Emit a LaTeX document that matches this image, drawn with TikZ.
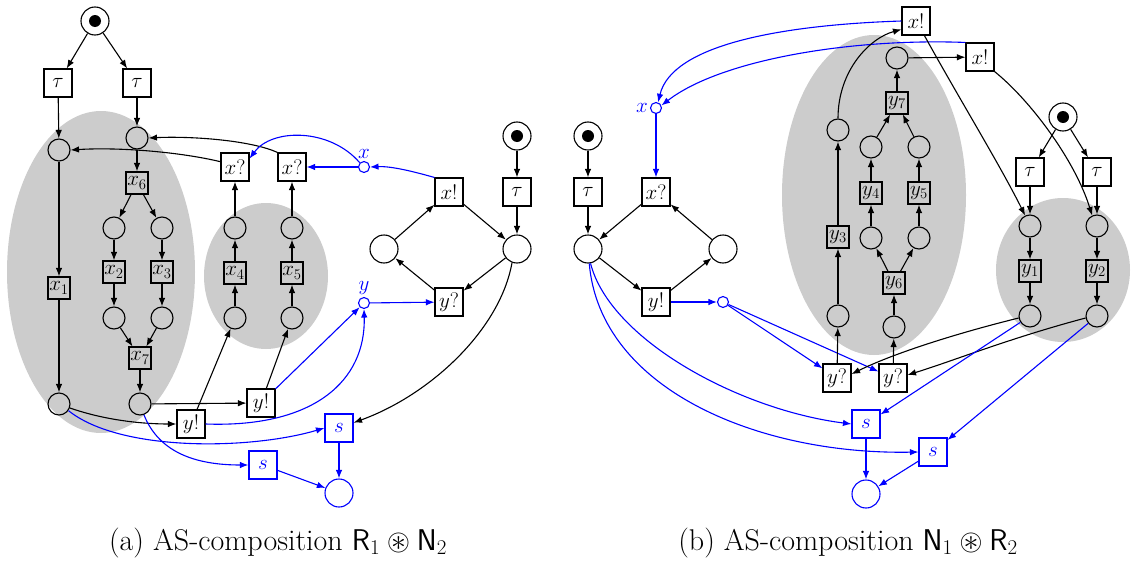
\RequirePackage{fix-cm}
\documentclass[tikz,border=0pt]{standalone}
\usepackage{amssymb}
\usetikzlibrary{arrows.meta}
\begin{document}
\begin{tikzpicture}[x=1pt,y=-1pt,
  every node/.style={font=\fontsize{21}{24}\selectfont},
  pl/.style={circle,draw,line width=1.1pt,minimum size=22pt,inner sep=0pt},
  wpl/.style={circle,draw,line width=1.1pt,minimum size=28pt,inner sep=0pt,fill=white},
  tokpl/.style={wpl},
  tr/.style={rectangle,draw,line width=1.1pt,fill=white,minimum size=28pt,inner sep=1pt},
  gtr/.style={rectangle,draw,line width=1.1pt,fill=black!20,minimum size=22pt,inner sep=0.5pt},
  btr/.style={tr,draw=blue,text=blue},
  bwpl/.style={wpl,draw=blue},
  ch/.style={circle,draw=blue,fill=white,line width=1.1pt,minimum size=11pt,inner sep=0pt},
  chlab/.style={blue,inner sep=2pt},
  arc/.style={-{Latex[length=8.5pt,width=6.5pt]},line width=1.1pt},
  barc/.style={arc,blue},
  blob/.style={fill=black!20},
  captext/.style={font=\fontsize{30}{34}\selectfont}
]
\useasboundingbox (0,0) rectangle (1133,562);

% ---------- background blobs ----------
\fill[blob] (101,272) ellipse [x radius=94pt, y radius=161pt];
\fill[blob] (266,276) ellipse [x radius=62pt, y radius=73pt];
\fill[blob] (874,195) ellipse [x radius=92pt, y radius=160pt];
\fill[blob] (1063,270) ellipse [x radius=67pt, y radius=72pt];

% ================= (a) =================
\node[tokpl] (a0) at (95,21) {};
\node[tr] (atl) at (58,83) {$\tau$};
\node[tr] (atr) at (137,83) {$\tau$};
\node[pl] (ap1) at (59,150) {};
\node[pl] (ap2) at (137,138) {};
\node[gtr] (ax6) at (137,183) {$x_6$};
\node[pl] (ap3) at (114,228) {};
\node[pl] (ap4) at (162,228) {};
\node[gtr] (ax2) at (114,272) {$x_2$};
\node[gtr] (ax3) at (162,272) {$x_3$};
\node[pl] (ap5) at (114,318) {};
\node[pl] (ap6) at (162,318) {};
\node[gtr] (ax7) at (140,358) {$x_7$};
\node[pl] (ap7) at (140,404) {};
\node[gtr] (ax1) at (59,288) {$x_1$};
\node[pl] (ap8) at (59,404) {};
\node[tr] (aq1) at (235,167) {$x?$};
\node[tr] (aq2) at (292,167) {$x?$};
\node[pl] (ap9) at (235,228) {};
\node[pl] (ap10) at (292,228) {};
\node[gtr] (ax4) at (235,273) {$x_4$};
\node[gtr] (ax5) at (292,273) {$x_5$};
\node[pl] (ap11) at (235,318) {};
\node[pl] (ap12) at (292,318) {};
\node[ch,label={[chlab]above:$x$}] (acx) at (364,167) {};
\node[ch,label={[chlab]above:$y$}] (acy) at (364,303) {};
\node[tr] (ay1) at (191,424) {$y!$};
\node[tr] (ay2) at (261,403) {$y!$};
\node[btr] (as1) at (339,428) {$s$};
\node[btr] (as2) at (263,465) {$s$};
\node[bwpl] (abp) at (339,493) {};
\node[tr] (axb) at (449,192) {$x!$};
\node[tokpl] (a20) at (517,136) {};
\node[tr] (atau2) at (517,192) {$\tau$};
\node[wpl] (apr) at (517,249) {};
\node[wpl] (apl) at (384,249) {};
\node[tr] (ayq) at (449,302) {$y?$};

\draw[arc] (a0) -- (atl);
\draw[arc] (a0) -- (atr);
\draw[arc] (atl) -- (ap1);
\draw[arc] (atr) -- (ap2);
\draw[arc] (ap1) -- (ax1);
\draw[arc] (ax1) -- (ap8);
\draw[arc] (ap2) -- (ax6);
\draw[arc] (ax6) -- (ap3);
\draw[arc] (ax6) -- (ap4);
\draw[arc] (ap3) -- (ax2);
\draw[arc] (ap4) -- (ax3);
\draw[arc] (ax2) -- (ap5);
\draw[arc] (ax3) -- (ap6);
\draw[arc] (ap5) -- (ax7);
\draw[arc] (ap6) -- (ax7);
\draw[arc] (ax7) -- (ap7);
\draw[arc] (aq1.160) .. controls (180,152) and (120,147) .. (ap1.east);
\draw[arc] (aq2.north west) .. controls (250,140) and (190,136) .. (ap2.east);
\draw[arc] (ap9) -- (aq1);
\draw[arc] (ap10) -- (aq2);
\draw[arc] (ax4) -- (ap9);
\draw[arc] (ax5) -- (ap10);
\draw[arc] (ap11) -- (ax4);
\draw[arc] (ap12) -- (ax5);
\draw[barc] (acx) -- (aq2);
\draw[barc] (acx.135) .. controls (330,128) and (272,128) .. (aq1.30);
\draw[barc] (axb.north west) .. controls (415,172) and (392,166) .. (acx.east);
\draw[arc] (ap8.-20) .. controls (110,422) and (150,424) .. (ay1.west);
\draw[arc] (ap7) -- (ay2);
\draw[arc] (ay1) -- (ap11);
\draw[arc] (ay2) -- (ap12);
\draw[barc] (ay2) -- (acy);
\draw[barc] (ay1.east) .. controls (315,428) and (366,380) .. (acy.south);
\draw[barc] (acy) -- (ayq);
\draw[barc] (ap8.-35) .. controls (120,452) and (250,450) .. (as1.west);
\draw[barc] (ap7.-70) .. controls (160,455) and (200,465) .. (as2.west);
\draw[barc] (as1) -- (abp);
\draw[barc] (as2) -- (abp);
\draw[arc] (apr.-110) .. controls (500,330) and (430,395) .. (as1.20);
\draw[arc] (apl) -- (axb);
\draw[arc] (axb) -- (apr);
\draw[arc] (apr) -- (ayq);
\draw[arc] (ayq) -- (apl);
\draw[arc] (a20) -- (atau2);
\draw[arc] (atau2) -- (apr);

% ================= (b) =================
\node[tokpl] (b0) at (588,136) {};
\node[tr] (btau) at (588,192) {$\tau$};
\node[wpl] (bpp) at (588,249) {};
\node[tr] (bxq) at (656,192) {$x?$};
\node[wpl] (bpq) at (723,249) {};
\node[ch,label={[chlab]left:$x$}] (bcx) at (656,108) {};
\node[tr] (byb) at (656,302) {$y!$};
\node[ch] (bcy) at (723,302) {};
\node[tr] (byq1) at (837,378) {$y?$};
\node[tr] (byq2) at (893,378) {$y?$};
\node[pl] (bc1) at (838,316) {};
\node[gtr] (by3) at (838,237) {$y_3$};
\node[pl] (bc2) at (838,130) {};
\node[tr] (bxt) at (916,21) {$x!$};
\node[tr] (bxs) at (980,57) {$x!$};
\node[pl] (bd0) at (897,58) {};
\node[gtr] (by7) at (897,103) {$y_7$};
\node[pl] (bd1) at (871,147) {};
\node[pl] (bd2) at (919,147) {};
\node[gtr] (by4) at (871,193) {$y_4$};
\node[gtr] (by5) at (919,193) {$y_5$};
\node[pl] (bd3) at (871,238) {};
\node[pl] (bd4) at (919,238) {};
\node[gtr] (by6) at (894,283) {$y_6$};
\node[pl] (bd5) at (894,327) {};
\node[tokpl] (b20) at (1063,117) {};
\node[tr] (bt1) at (1030,172) {$\tau$};
\node[tr] (bt2) at (1097,172) {$\tau$};
\node[pl] (be1) at (1030,226) {};
\node[pl] (be2) at (1097,226) {};
\node[gtr] (by1) at (1030,271) {$y_1$};
\node[gtr] (by2) at (1097,271) {$y_2$};
\node[pl] (be3) at (1030,316) {};
\node[pl] (be4) at (1097,316) {};
\node[btr] (bs1) at (866,424) {$s$};
\node[btr] (bs2) at (933,452) {$s$};
\node[bwpl] (bbp) at (866,494) {};

% tokens
\foreach \t in {a0,a20,b0,b20} \fill (\t.center) circle [radius=6pt];

\draw[arc] (b0) -- (btau);
\draw[arc] (btau) -- (bpp);
\draw[arc] (bpp) -- (byb);
\draw[arc] (byb) -- (bpq);
\draw[arc] (bpq) -- (bxq);
\draw[arc] (bxq) -- (bpp);
\draw[barc] (bcx) -- (bxq);
\draw[barc] (bxt.west) .. controls (780,25) and (672,45) .. (bcx.70);
\draw[barc] (bxs.north west) .. controls (850,38) and (720,60) .. (bcx.25);
\draw[barc] (byb) -- (bcy);
\draw[barc] (bcy) -- (byq1);
\draw[barc] (bcy) -- (byq2);
\draw[barc] (bpp.-80) .. controls (610,340) and (740,410) .. (bs1.west);
\draw[barc] (bpp.-85) .. controls (600,390) and (760,455) .. (bs2.west);
\draw[arc] (byq1) -- (bc1);
\draw[arc] (bc1) -- (by3);
\draw[arc] (by3) -- (bc2);
\draw[arc] (bc2.north) .. controls (838,70) and (870,38) .. (bxt.-150);
\draw[arc] (byq2) -- (bd5);
\draw[arc] (bd5) -- (by6);
\draw[arc] (by6) -- (bd3);
\draw[arc] (by6) -- (bd4);
\draw[arc] (bd3) -- (by4);
\draw[arc] (bd4) -- (by5);
\draw[arc] (by4) -- (bd1);
\draw[arc] (by5) -- (bd2);
\draw[arc] (bd1) -- (by7);
\draw[arc] (bd2) -- (by7);
\draw[arc] (by7) -- (bd0);
\draw[arc] (bd0) -- (bxs);
\draw[arc] (bxt.-60) .. controls (960,100) and (1000,165) .. (be1.115);
\draw[arc] (bxs.-45) .. controls (1030,100) and (1075,160) .. (be2.115);
\draw[arc] (b20) -- (bt1);
\draw[arc] (b20) -- (bt2);
\draw[arc] (bt1) -- (be1);
\draw[arc] (bt2) -- (be2);
\draw[arc] (be1) -- (by1);
\draw[arc] (be2) -- (by2);
\draw[arc] (by1) -- (be3);
\draw[arc] (by2) -- (be4);
\draw[arc] (be3.190) .. controls (950,335) and (890,355) .. (byq1.15);
\draw[arc] (be4.190) .. controls (1010,338) and (950,362) .. (byq2.12);
\draw[barc] (be3) -- (bs1);
\draw[barc] (be4) -- (bs2);
\draw[barc] (bs1) -- (bbp);
\draw[barc] (bs2) -- (bbp);

% ---------- captions ----------
\node[captext] (capa) at (278,543) {(a) AS-composition $\mathsf{R}_1\circledast\mathsf{N}_2$};
\node[captext] (capb) at (848,543) {(b) AS-composition $\mathsf{N}_1\circledast\mathsf{R}_2$};
\end{tikzpicture}
\end{document}
